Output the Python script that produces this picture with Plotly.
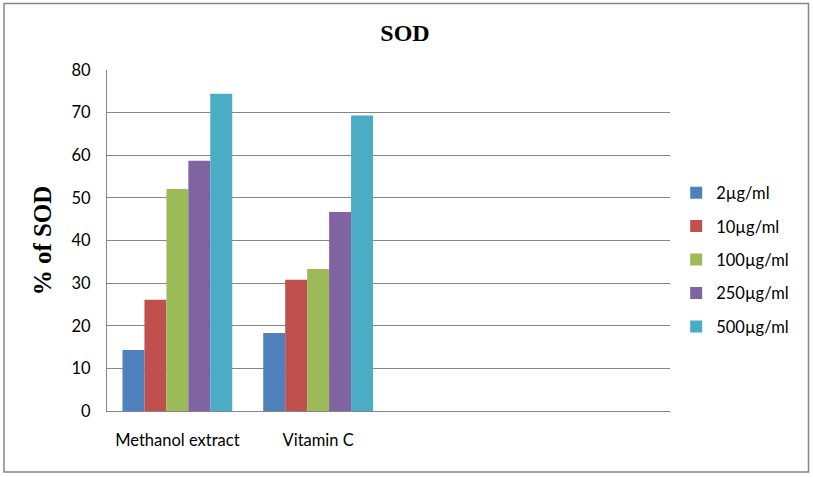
import plotly.graph_objects as go

categories = ["Methanol extract", "Vitamin C"]
empty_slots = [" ", "  "]
series_names = ["2µg/ml", "10µg/ml", "100µg/ml", "250µg/ml", "500µg/ml"]
series_values = [
    [14.3, 18.3],
    [26.1, 30.8],
    [52.1, 33.3],
    [58.7, 46.7],
    [74.4, 69.3],
]
colors = ["#4F81BD", "#C0504D", "#9BBB59", "#8064A2", "#4BACC6"]
y_ticks = [0, 10, 20, 30, 40, 50, 60, 70, 80]

W, H = 813, 477
L, R, T, B = 107, 143, 70, 66
pw, ph = W - L - R, H - T - B

fig = go.Figure()
for i, (name, vals) in enumerate(zip(series_names, series_values)):
    fig.add_trace(go.Bar(
        x=categories, y=vals, name=name,
        marker=dict(color=colors[i], line=dict(width=0)),
        legendgroup=name,
    ))

text_font = "Lato, Liberation Sans, sans-serif"
fig.update_layout(
    width=W, height=H,
    margin=dict(l=L, r=R, t=T, b=B),
    paper_bgcolor="white", plot_bgcolor="white",
    barmode="group", bargap=0.22, bargroupgap=0,
    title=dict(text="<b>SOD</b>", x=(405 - L) / pw, xref="paper", xanchor="center",
               y=1 - 33 / H, yanchor="middle",
               font=dict(family="Liberation Serif", size=24, color="black")),
    xaxis=dict(type="category", categoryorder="array",
               categoryarray=categories + empty_slots,
               range=[-0.5, 3.5], showgrid=False, showline=True,
               linecolor="#868686", linewidth=1, ticks="",
               tickfont=dict(family=text_font, size=16.5, color="black"),
               ticklabelstandoff=14),
    yaxis=dict(range=[0, 80], tickvals=y_ticks, showgrid=True,
               gridcolor="#868686", gridwidth=1, showline=True,
               linecolor="#868686", linewidth=1, zeroline=False,
               tickfont=dict(family=text_font, size=16.5, color="black"),
               ticklabelstandoff=12,
               title=dict(text="<b>% of SOD</b>", standoff=12,
                          font=dict(family="Liberation Serif", size=25, color="black"))),
    legend=dict(x=1.011, xanchor="left", y=0.443, yanchor="middle",
                traceorder="grouped", tracegroupgap=9,
                font=dict(family=text_font, size=16.5, color="black"),
                itemwidth=30, bgcolor="rgba(0,0,0,0)"),
    showlegend=True,
)

fig.add_shape(type="rect", xref="paper", yref="paper",
              x0=(4 - L) / pw, x1=(808.5 - L) / pw,
              y0=(H - B - 472) / ph, y1=(H - B - 3.5) / ph,
              line=dict(color="#868686", width=1.5), fillcolor="rgba(0,0,0,0)",
              layer="below")

fig.write_html("out.html", config={"displayModeBar": False},
               post_script="document.body.style.margin='0px';")
